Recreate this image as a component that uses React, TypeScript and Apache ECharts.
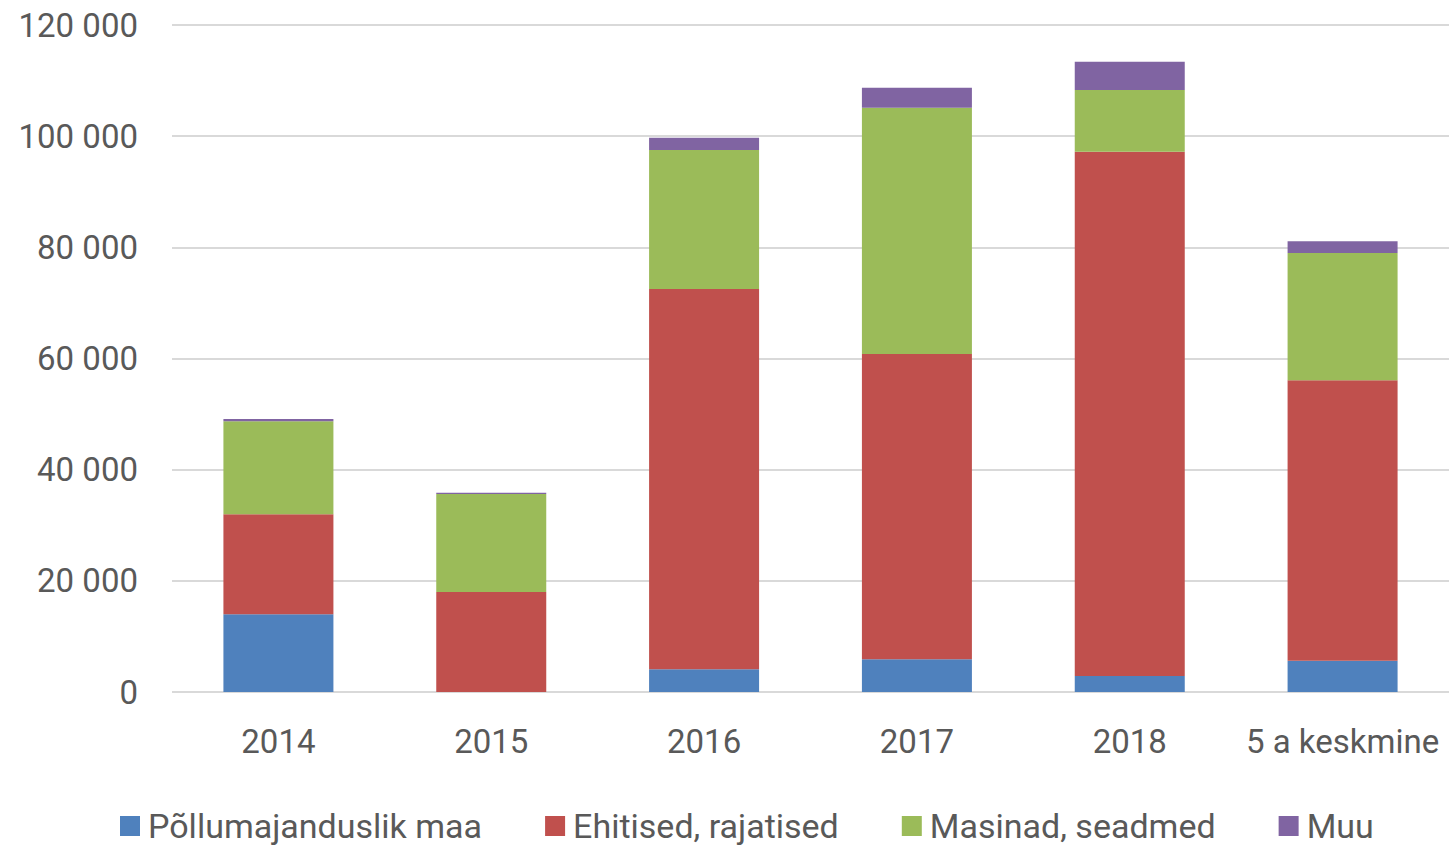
import React, { useEffect, useRef } from "react";
import * as echarts from "echarts";

const categories = ["2014", "2015", "2016", "2017", "2018", "5 a keskmine"];
const seriesNames = ["Põllumajanduslik maa", "Ehitised, rajatised", "Masinad, seadmed", "Muu"];
const landValues = [14000, 0, 4100, 5900, 2900, 5600];
const buildingValues = [18000, 18000, 68400, 54900, 94300, 50500];
const machineryValues = [16700, 17600, 25000, 44300, 11100, 22900];
const otherValues = [400, 250, 2200, 3600, 5100, 2100];
const colors = ["#4F81BD", "#C0504D", "#9BBB59", "#8064A2"];

const FONT = "Roboto";
const TEXT = "#595959";

function fmt(v: number): string {
  return String(v).replace(/\B(?=(\d{3})+(?!\d))/g, " ");
}

export default function App() {
  const ref = useRef<HTMLDivElement>(null);
  useEffect(() => {
    if (!ref.current) return;
    const chart = echarts.init(ref.current, undefined, { renderer: "svg" });
    const data = [landValues, buildingValues, machineryValues, otherValues];
    chart.setOption({
      animation: false,
      color: colors,
      grid: { left: 172, width: 1282, top: 25, height: 667 },
      legend: {
        left: 120,
        top: 808,
        padding: 0,
        itemWidth: 20,
        itemHeight: 20,
        itemGap: 63,
        icon: "rect",
        textStyle: {
          fontFamily: FONT,
          fontSize: 34,
          lineHeight: 36,
          color: TEXT,
          padding: [0, 0, 0, 3],
        },
        data: seriesNames,
      },
      xAxis: {
        type: "category",
        data: categories,
        axisLine: { show: false },
        axisTick: { show: false },
        axisLabel: { fontFamily: FONT, fontSize: 33, color: TEXT, margin: 33, interval: 0 },
      },
      yAxis: {
        type: "value",
        min: 0,
        max: 120000,
        interval: 20000,
        axisLine: { show: false },
        axisTick: { show: false },
        splitLine: { lineStyle: { color: "#D9D9D9", width: 2 } },
        axisLabel: {
          fontFamily: FONT,
          fontSize: 33,
          color: TEXT,
          margin: 34,
          formatter: (v: number) => fmt(v),
        },
      },
      series: seriesNames.map((name, i) => ({
        name,
        type: "bar",
        stack: "total",
        barWidth: 110,
        data: data[i],
      })),
    });
    return () => chart.dispose();
  }, []);
  return (
    <div
      ref={ref}
      style={{ position: "fixed", left: 0, top: 0, width: 1449, height: 845, background: "#fff" }}
    />
  );
}
